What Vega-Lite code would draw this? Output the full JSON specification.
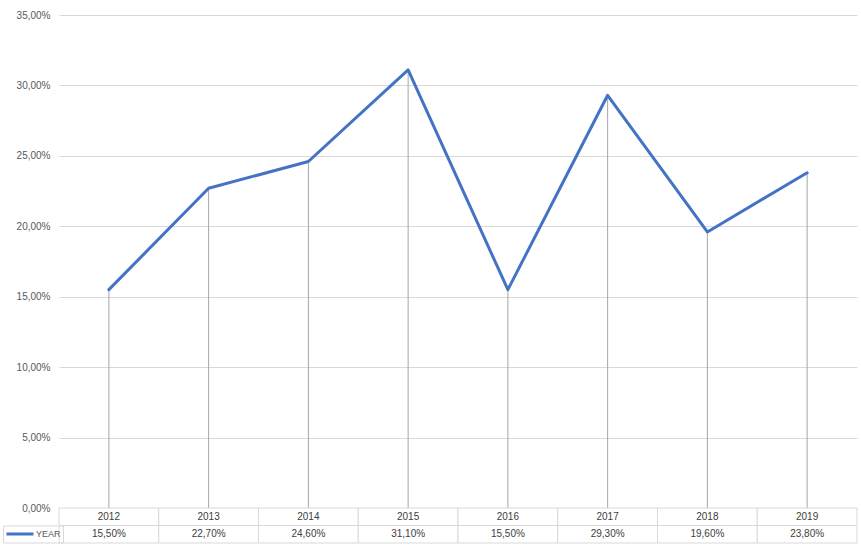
{
  "$schema": "https://vega.github.io/schema/vega-lite/v6.json",
  "width": 798,
  "height": 493,
  "autosize": {"type": "none"},
  "padding": {"left": 59, "top": 15, "right": 4, "bottom": 40},
  "background": "white",
  "config": {
    "view": {"stroke": null},
    "font": "Liberation Sans",
    "locale": {"number": {"decimal": ",", "thousands": ".", "grouping": [3], "currency": ["", " €"]}}
  },
  "data": {
    "values": [
      {"year": "2012", "value": 0.155},
      {"year": "2013", "value": 0.227},
      {"year": "2014", "value": 0.246},
      {"year": "2015", "value": 0.311},
      {"year": "2016", "value": 0.155},
      {"year": "2017", "value": 0.293},
      {"year": "2018", "value": 0.196},
      {"year": "2019", "value": 0.238}
    ]
  },
  "encoding": {
    "x": {"field": "year", "type": "ordinal", "scale": {"paddingInner": 0, "paddingOuter": 0}, "axis": null}
  },
  "layer": [
    {
      "mark": {"type": "rule", "color": "#a6a6a6", "strokeWidth": 1},
      "encoding": {
        "x": {"field": "year", "type": "ordinal", "bandPosition": 0.5},
        "y": {
          "field": "value", "type": "quantitative",
          "scale": {"domain": [0, 0.35], "nice": false},
          "axis": {
            "values": [0, 0.05, 0.1, 0.15, 0.2, 0.25, 0.3, 0.35],
            "format": ".2%", "grid": true, "gridColor": "#d9d9d9", "gridWidth": 1,
            "domain": false, "ticks": false, "labelPadding": 9,
            "labelColor": "#595959", "labelFontSize": 10, "labelFont": "Liberation Sans", "title": null
          }
        },
        "y2": {"datum": 0}
      }
    },
    {
      "mark": {"type": "line", "strokeWidth": 3, "strokeJoin": "round", "strokeCap": "round"},
      "encoding": {
        "x": {"field": "year", "type": "ordinal", "bandPosition": 0.5},
        "y": {"field": "value", "type": "quantitative"},
        "color": {
          "datum": "YEAR",
          "scale": {"range": ["#4472C4"]},
          "legend": {
            "orient": "none", "legendX": -56, "legendY": 510.5, "title": null,
            "symbolType": "stroke", "symbolSize": 729, "symbolStrokeWidth": 3,
            "clipHeight": 13,
            "labelFontSize": 9, "labelFont": "Liberation Sans", "labelColor": "#595959",
            "labelOffset": 1, "strokeColor": "#d9d9d9", "padding": 2
          }
        }
      }
    },
    {
      "mark": {"type": "rect", "fill": "white", "stroke": "#d9d9d9", "strokeWidth": 1},
      "encoding": {"y": {"datum": 0}, "y2": {"datum": -0.01242}}
    },
    {
      "mark": {"type": "rect", "fill": "white", "stroke": "#d9d9d9", "strokeWidth": 1},
      "encoding": {"y": {"datum": -0.01242}, "y2": {"datum": -0.02485}}
    },
    {
      "mark": {"type": "text", "fontSize": 10, "color": "#404040", "font": "Liberation Sans", "baseline": "middle"},
      "encoding": {
        "x": {"field": "year", "type": "ordinal", "bandPosition": 0.5},
        "y": {"datum": -0.0062},
        "text": {"field": "year"}
      }
    },
    {
      "mark": {"type": "text", "fontSize": 10, "color": "#404040", "font": "Liberation Sans", "baseline": "middle"},
      "encoding": {
        "x": {"field": "year", "type": "ordinal", "bandPosition": 0.5},
        "y": {"datum": -0.0186},
        "text": {"field": "value", "type": "quantitative", "format": ".2%"}
      }
    }
  ]
}
